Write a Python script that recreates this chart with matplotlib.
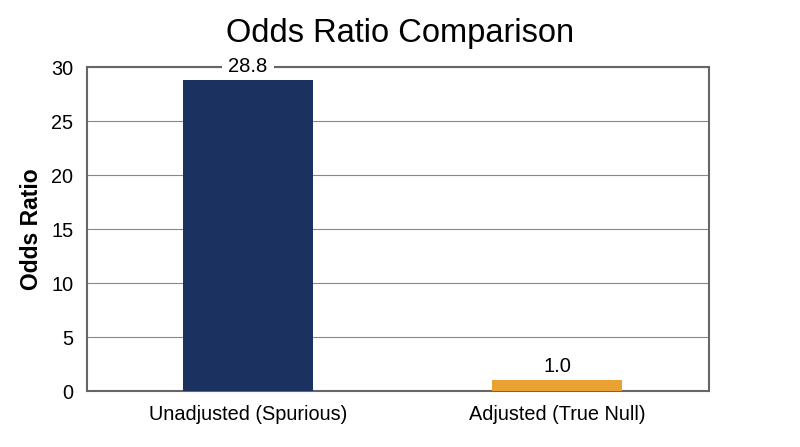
import matplotlib
matplotlib.use("Agg")
import matplotlib.pyplot as plt

categories = ["Unadjusted (Spurious)", "Adjusted (True Null)"]
odds_ratios = [28.8, 1.0]
bar_colors = ["#1b3160", "#e9a232"]

plt.rcParams["font.family"] = ["Liberation Sans", "DejaVu Sans"]

fig = plt.figure(figsize=(8, 4.47), dpi=100)
ax = fig.add_axes([0.109, 0.125, 0.777, 0.725])

x = list(range(len(categories)))
bars = ax.bar(x, odds_ratios, width=0.42, color=bar_colors, zorder=4)

# white box behind the value labels breaks the grid / top frame line
for xi, v in zip(x, odds_ratios):
    ax.annotate(f"{v:.1f}", (xi, v), xytext=(0, 3), textcoords="offset points",
                ha="center", va="bottom", fontsize=14.5,
                bbox=dict(facecolor="white", edgecolor="none", pad=5),
                zorder=3, annotation_clip=False)

ax.set_xlim(-0.52, 1.49)
ax.set_ylim(0, 30)
ax.set_yticks(range(0, 31, 5))
ax.set_xticks(x)
ax.set_xticklabels(categories, fontsize=14.3)
ax.tick_params(axis="y", labelsize=14.3, length=0, pad=10)
ax.tick_params(axis="x", length=0, pad=10)
ax.grid(axis="y", color="#888888", linewidth=0.8, zorder=0)
for s in ax.spines.values():
    s.set_color("#666666")
    s.set_linewidth(1.5)

ax.set_ylabel("Odds Ratio", fontsize=16.5, fontweight="bold", labelpad=6)
fig.suptitle("Odds Ratio Comparison", fontsize=23.5, y=0.96)

fig.savefig("out.png", dpi=100)
